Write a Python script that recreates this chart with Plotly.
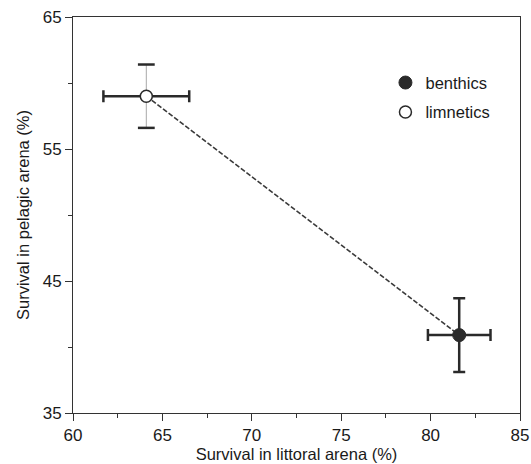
import plotly.graph_objects as go

groups = ["limnetics", "benthics"]
littoral = [64.1, 81.6]          # x: survival in littoral arena (%)
pelagic = [59.0, 40.9]           # y: survival in pelagic arena (%)
littoral_err = [2.4, 1.75]
pelagic_err = [2.4, 2.8]

x_ticks = [60, 65, 70, 75, 80, 85]
y_ticks = [35, 45, 55, 65]

DARK = "#2a2a2a"
GREY = "#a8a8a8"

fig = go.Figure()

# connecting dashed line
fig.add_trace(go.Scatter(x=littoral, y=pelagic, mode="lines",
                         line=dict(color="#3a3a3a", width=1.6, dash="5px,2px"),
                         showlegend=False, hoverinfo="skip"))

# limnetics: light grey vertical stem
fig.add_trace(go.Scatter(x=[littoral[0]], y=[pelagic[0]], mode="markers",
                         marker=dict(size=1, opacity=0),
                         error_y=dict(type="data", array=[pelagic_err[0]], color=GREY,
                                      thickness=1, width=0),
                         showlegend=False, hoverinfo="skip"))
# limnetics: dark caps for vertical error
fig.add_trace(go.Scatter(x=[littoral[0], littoral[0]],
                         y=[pelagic[0] + pelagic_err[0], pelagic[0] - pelagic_err[0]],
                         mode="markers",
                         marker=dict(symbol="line-ew-open", size=12, color=DARK,
                                     line=dict(color=DARK, width=2.5)),
                         showlegend=False, hoverinfo="skip"))
# limnetics: horizontal error + marker
fig.add_trace(go.Scatter(x=[littoral[0]], y=[pelagic[0]], mode="markers",
                         name=groups[0], legendgroup="l", legendrank=2,
                         marker=dict(symbol="circle", size=12, color="white",
                                     line=dict(color=DARK, width=1.5)),
                         error_x=dict(type="data", array=[littoral_err[0]], color=DARK,
                                      thickness=2.5, width=6)))

# benthics
fig.add_trace(go.Scatter(x=[littoral[1]], y=[pelagic[1]], mode="markers",
                         name=groups[1], legendgroup="b", legendrank=1,
                         marker=dict(symbol="circle", size=13, color=DARK,
                                     line=dict(color=DARK, width=1)),
                         error_x=dict(type="data", array=[littoral_err[1]], color=DARK,
                                      thickness=2.5, width=6),
                         error_y=dict(type="data", array=[pelagic_err[1]], color=DARK,
                                      thickness=2.5, width=6)))

font = dict(family="Liberation Sans, Arial, sans-serif", size=17, color="#1a1a1a")

fig.update_layout(
    width=531, height=464,
    margin=dict(l=73, r=11, t=17, b=51),
    paper_bgcolor="white", plot_bgcolor="white",
    font=font,
    legend=dict(x=0.699, y=0.878, xanchor="left", yanchor="top",
                traceorder="grouped", bgcolor="rgba(0,0,0,0)",
                font=dict(size=16.5), itemwidth=30, tracegroupgap=5),
    xaxis=dict(range=[60, 85], tickvals=x_ticks, ticktext=[str(v) for v in x_ticks],
               showgrid=False, zeroline=False, showline=True, linecolor="#333333",
               linewidth=1, mirror=True, ticks="outside", ticklen=7, tickcolor="#333333",
               automargin=False,
               minor=dict(dtick=2.5, ticks="outside", ticklen=4, tickcolor="#333333"),
               title=dict(text="Survival in littoral arena (%)", standoff=2, font=dict(size=16.5))),
    yaxis=dict(range=[35, 65], tickvals=y_ticks, ticktext=[str(v) for v in y_ticks],
               showgrid=False, zeroline=False, showline=True, linecolor="#333333",
               linewidth=1, mirror=True, ticks="outside", ticklen=7, tickcolor="#333333",
               automargin=False,
               minor=dict(tickvals=[40, 50, 60], ticks="outside", ticklen=4, tickcolor="#333333"),
               title=dict(text="Survival in pelagic arena (%)", standoff=8, font=dict(size=16.5))),
)

fig.write_html("out.html", config={"displayModeBar": False},
               post_script="document.body.style.margin='0px';")
